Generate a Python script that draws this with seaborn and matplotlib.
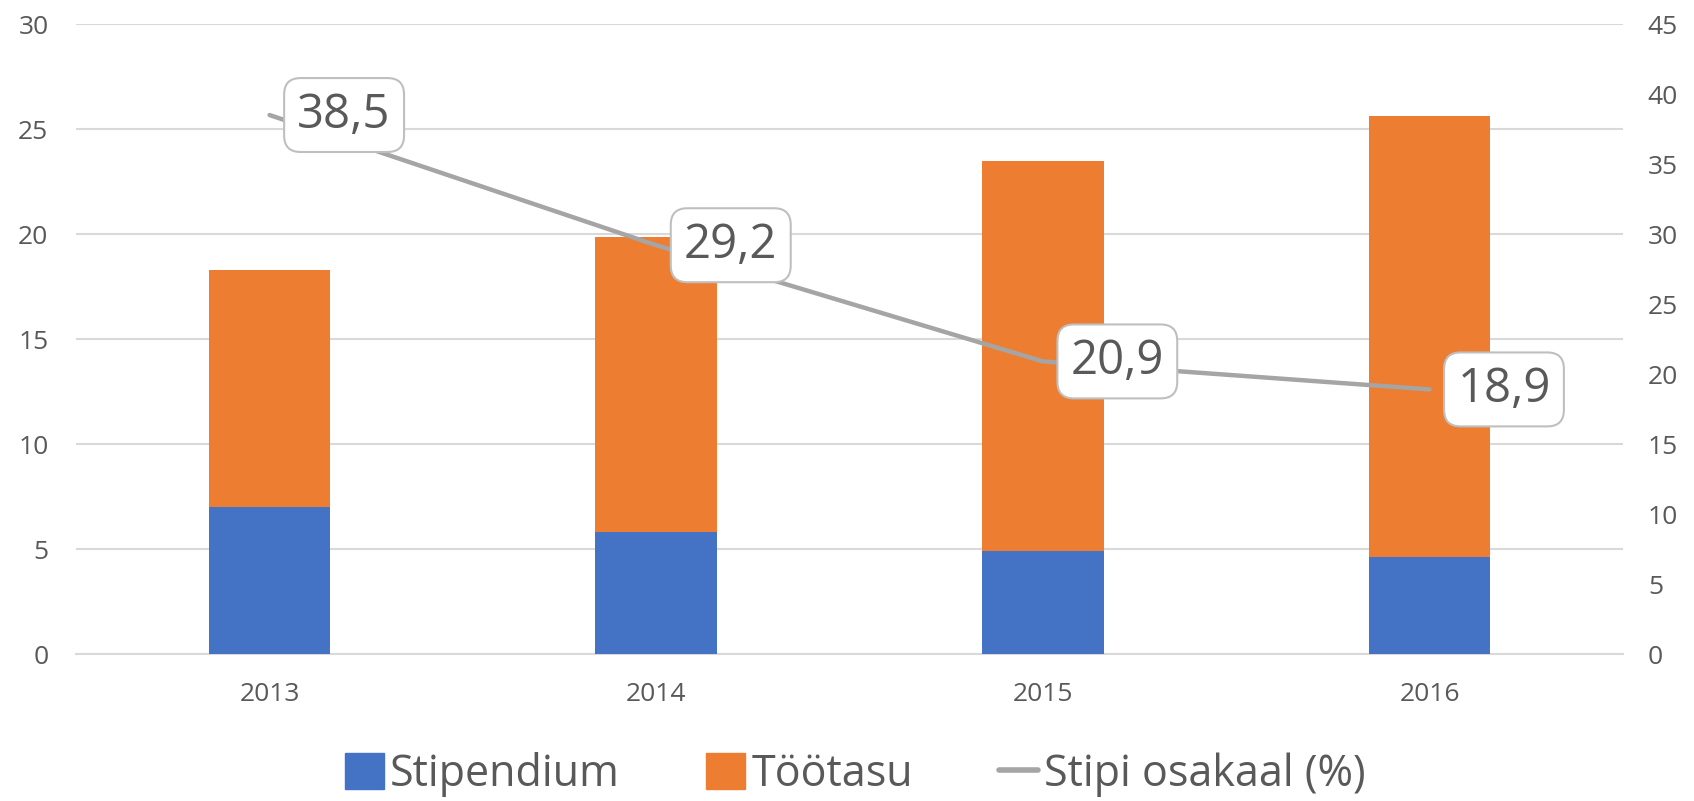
import numpy as np
import matplotlib
matplotlib.use('Agg')
import matplotlib.pyplot as plt
import pandas as pd
import seaborn as sns
from matplotlib.patches import Patch
from matplotlib.lines import Line2D

# data
years = ['2013', '2014', '2015', '2016']
stipendium = [7.0, 5.8, 4.9, 4.6]
tootasu = [11.3, 14.05, 18.6, 21.0]
stipi_osakaal = [38.5, 29.2, 20.9, 18.9]
share_labels = ['38,5', '29,2', '20,9', '18,9']

blue = '#4472C4'
orange = '#ED7D31'
grey = '#A5A5A5'
txt = '#595959'
grid = '#D9D9D9'

sns.set_theme(style='white')
plt.rcParams['font.family'] = ['Open Sans', 'DejaVu Sans']

df = pd.DataFrame({'year': years, 'stip': stipendium, 'too': tootasu})
df['total'] = df['stip'] + df['too']

fig = plt.figure(figsize=(16.94, 8.01), dpi=100)
ax = fig.add_axes([0.045, 0.1835, 0.913, 0.7865])

# stacked bars: total (orange) first, blue part on top of it
sns.barplot(data=df, x='year', y='total', color=orange, width=0.315,
            saturation=1, linewidth=0, ax=ax, zorder=2)
sns.barplot(data=df, x='year', y='stip', color=blue, width=0.315,
            saturation=1, linewidth=0, ax=ax, zorder=3)

ax.set_xlim(-0.5, 3.5)
ax.set_ylim(0, 30)
ax.set_yticks(range(0, 31, 5))
ax.yaxis.grid(True, color=grid, lw=1.5, zorder=0)
ax.set_axisbelow(True)
for s in ['top', 'right', 'left']:
    ax.spines[s].set_visible(False)
ax.spines['bottom'].set_color(grid)
ax.spines['bottom'].set_linewidth(1.5)
ax.set_xlabel('')
ax.set_ylabel('')
ax.tick_params(axis='both', length=0, labelsize=19, labelcolor=txt)
ax.tick_params(axis='x', pad=20)
ax.tick_params(axis='y', pad=20)

# share line on the right axis
ax2 = ax.twinx()
xs = np.arange(len(years))
ax2.plot(xs, stipi_osakaal, color=grey, lw=3.2, zorder=4, solid_capstyle='round')
ax2.set_ylim(0, 45)
ax2.set_yticks(range(0, 46, 5))
for s in ax2.spines.values():
    s.set_visible(False)
ax2.tick_params(axis='y', length=0, labelsize=19, labelcolor=txt, pad=18)
ax2.grid(False)

for x, v, lab in zip(xs, stipi_osakaal, share_labels):
    ax2.annotate(lab, (x, v), xytext=(20, 0), textcoords='offset points',
                 ha='left', va='center', fontsize=34, color=txt, zorder=5,
                 bbox=dict(boxstyle='round,pad=0.28,rounding_size=0.35',
                           fc='white', ec='#BFBFBF', lw=1.5))

handles = [Patch(color=blue, label='Stipendium'),
           Patch(color=orange, label='Töötasu'),
           Line2D([0], [0], color=grey, lw=4, label='Stipi osakaal (%)')]
fig.legend(handles=handles, loc='center', bbox_to_anchor=(0.505, 0.033), ncol=3,
           frameon=False, fontsize=31, labelcolor=txt, handlelength=0.9,
           handleheight=0.9, handletextpad=0.15, columnspacing=2.0)

fig.savefig('out.png', dpi=100)
